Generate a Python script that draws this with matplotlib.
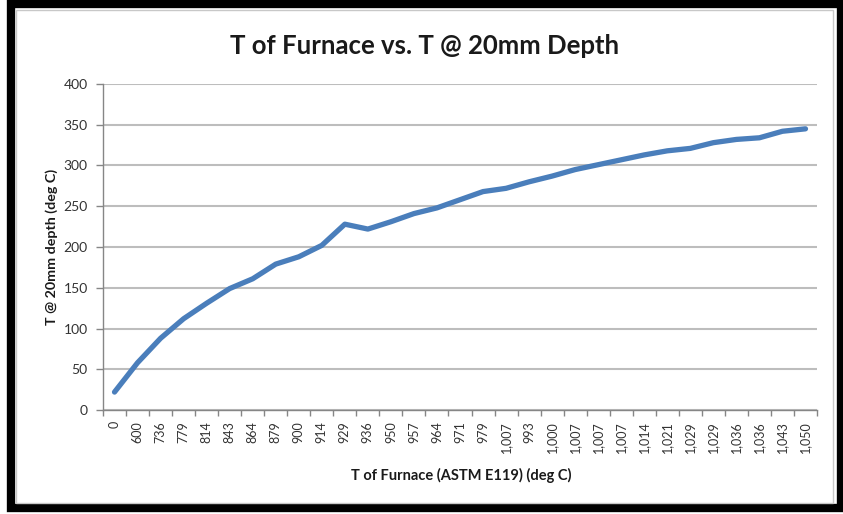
import matplotlib.pyplot as plt
import numpy as np
from matplotlib.patches import Rectangle

# furnace temperature labels (category axis) and the 20mm-depth readings
furnace_labels = ['0', '600', '736', '779', '814', '843', '864', '879', '900', '914',
                  '929', '936', '950', '957', '964', '971', '979', '1,007', '993', '1,000',
                  '1,007', '1,007', '1,007', '1,014', '1,021', '1,029', '1,029', '1,036',
                  '1,036', '1,043', '1,050']
depth_temps = [22, 58, 88, 112, 131, 149, 161, 179, 188, 202,
               228, 222, 231, 241, 248, 258, 268, 272, 280, 287,
               295, 301, 307, 313, 318, 321, 328, 332, 334, 342, 345]
y_ticks = [0, 50, 100, 150, 200, 250, 300, 350, 400]

plt.rcParams['font.family'] = ['Lato', 'DejaVu Sans']

fig = plt.figure(figsize=(8.43, 5.14), dpi=100)
W, H = 843, 514

# black picture frame + thin gray inner border
fig.patches.append(Rectangle((11 / W, 6 / H), (840.5 - 11) / W, (510 - 6) / H,
                             transform=fig.transFigure, fill=False,
                             edgecolor='black', linewidth=6, zorder=0))
fig.patches.append(Rectangle((16 / W, 11 / H), (833 - 16) / W, (504 - 11) / H,
                             transform=fig.transFigure, fill=False,
                             edgecolor='#c8c8c8', linewidth=1, zorder=0))

ax = fig.add_axes([103 / W, 1 - 410 / H, (817 - 103) / W, (410 - 84) / H])

x = np.arange(len(furnace_labels))
ax.plot(x, depth_temps, color='#4a7ebb', linewidth=3.8, solid_capstyle='round',
        solid_joinstyle='round', zorder=3)

ax.set_xlim(-0.5, len(furnace_labels) - 0.5)
ax.set_ylim(0, 400)
ax.set_yticks(y_ticks)
ax.yaxis.grid(True, color='#bdbdbd', linewidth=1.5)
ax.set_axisbelow(True)

ax.set_xticks(x)
ax.set_xticklabels(furnace_labels, rotation=90, fontsize=9, color='#333333')
ax.set_xticks(np.arange(-0.5, len(furnace_labels)), minor=True)
ax.tick_params(axis='x', which='major', length=0, pad=8)
ax.tick_params(axis='x', which='minor', length=4, color='#868686', width=1)
ax.tick_params(axis='y', length=5, color='#868686', width=1, labelsize=10,
               labelcolor='#333333', pad=6)

for side in ['top', 'right']:
    ax.spines[side].set_visible(False)
for side in ['left', 'bottom']:
    ax.spines[side].set_color('#868686')
    ax.spines[side].set_linewidth(1)

fig.text(425 / W, 1 - 46 / H, 'T of Furnace vs. T @ 20mm Depth', ha='center',
         va='center', fontsize=18.5, fontweight='bold', color='#1a1a1a')
fig.text(52 / W, 1 - 247 / H, 'T @ 20mm depth (deg C)', ha='center', va='center',
         rotation=90, fontsize=10.3, fontweight='bold', color='#1a1a1a')
fig.text(461 / W, 1 - 475 / H, 'T of Furnace (ASTM E119) (deg C)', ha='center',
         va='center', fontsize=10.5, fontweight='bold', color='#1a1a1a')

plt.savefig('out.png', dpi=100)
